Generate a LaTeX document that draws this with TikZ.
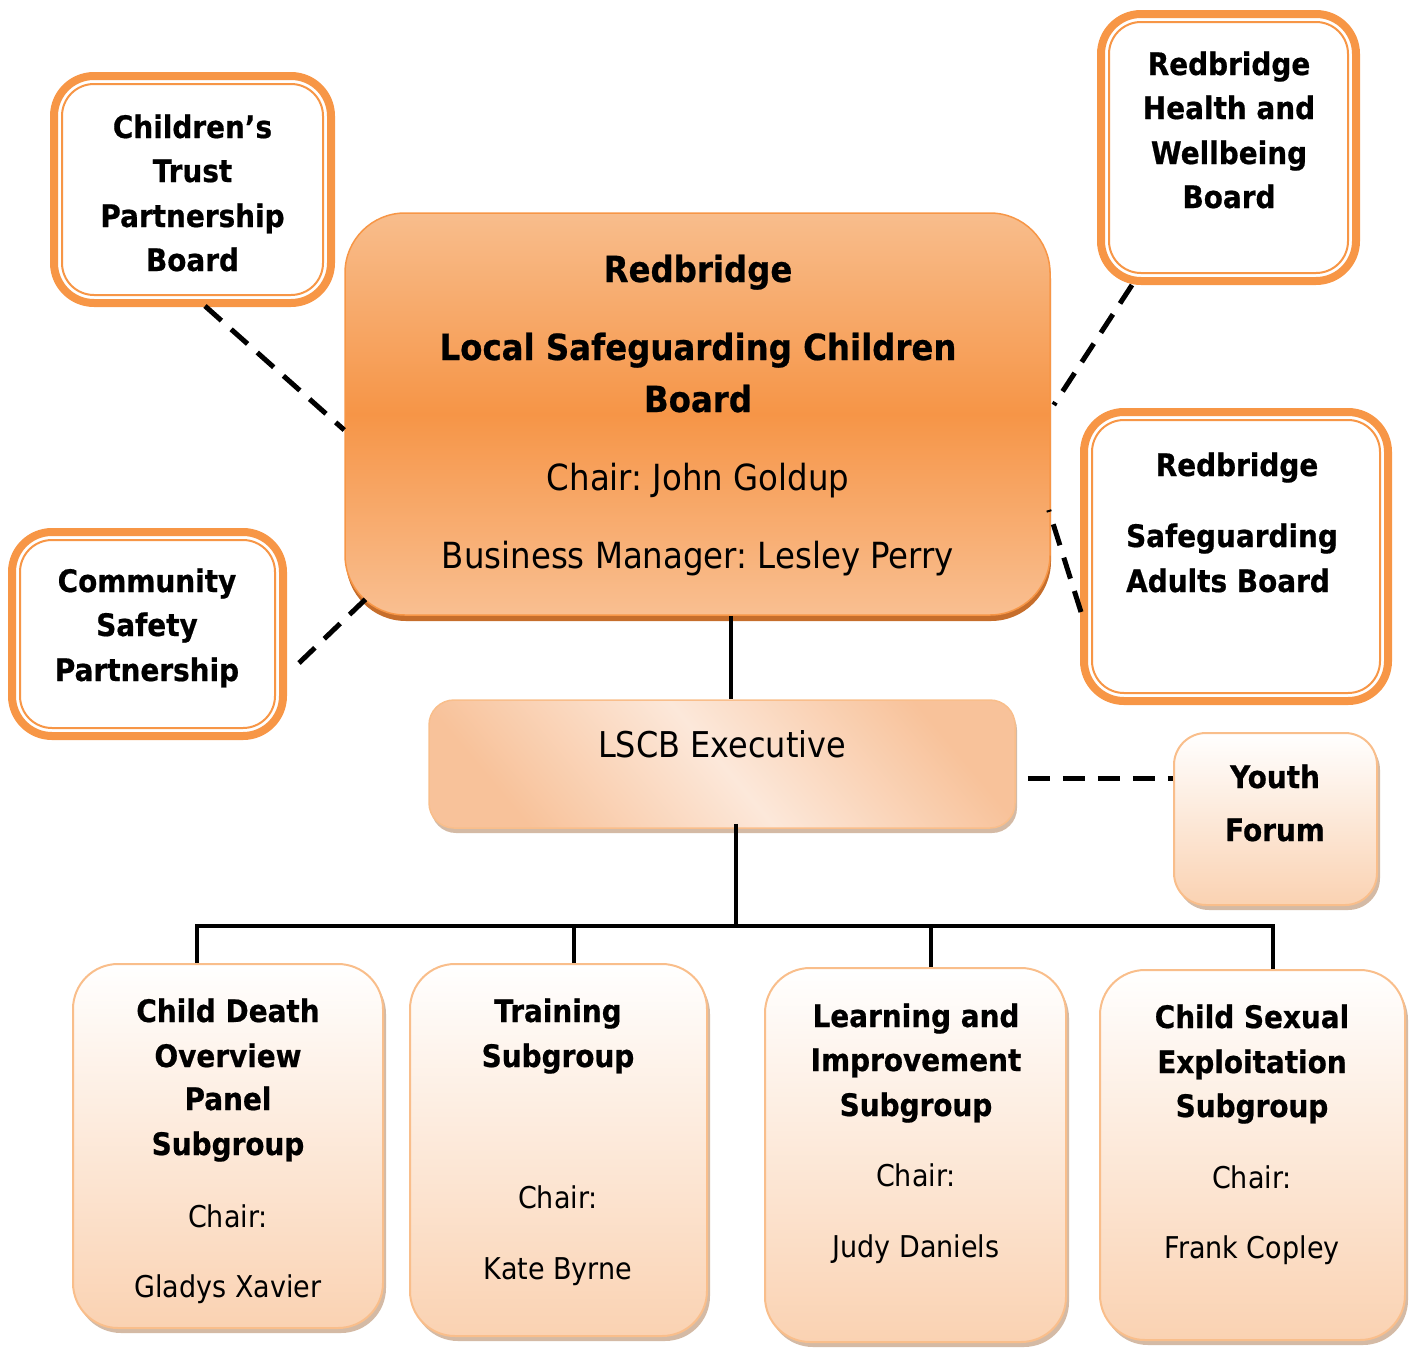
\documentclass[tikz,border=0pt]{standalone}
\usepackage{fontspec}
\setmainfont{DejaVu Sans}[FakeStretch=0.9, BoldFeatures={FakeBold=0.6}]
\usetikzlibrary{calc,shadows}
\definecolor{org}{HTML}{F79646}
\definecolor{mtop}{HTML}{F8BD8C}
\definecolor{mmid}{HTML}{F69547}
\definecolor{mbot}{HTML}{F9BF91}
\definecolor{mshad}{HTML}{C66E2C}
\definecolor{ec1}{HTML}{F8C29A}
\definecolor{ec2}{HTML}{FCE8DA}
\definecolor{sbot}{HTML}{FAD2B2}
\definecolor{sbord}{HTML}{F9BE8B}
\definecolor{lshad}{HTML}{C9A98E}
\tikzset{
  dbl/.style={draw=org, line width=8pt, fill=white, rounded corners=40pt, inner sep=0, outer sep=0},
  dblin/.style={draw=org, line width=2pt, rounded corners=32pt},
  mainbox/.style={draw=org, line width=1.5pt, rounded corners=60pt, inner sep=0,
    top color=mtop, bottom color=mbot, middle color=mmid,
    drop shadow={shadow xshift=1pt, shadow yshift=-6pt, fill=mshad, opacity=1}},
  execbox/.style={draw=sbord, line width=1.5pt, rounded corners=25pt, inner sep=0,
    shading=axis, top color=ec1, bottom color=ec1, middle color=ec2, shading angle=-50,
    drop shadow={shadow xshift=2pt, shadow yshift=-5pt, fill=lshad, opacity=.8}},
  subbox/.style={draw=sbord, line width=2pt, rounded corners=45pt, inner sep=0,
    top color=white, bottom color=sbot,
    drop shadow={shadow xshift=3pt, shadow yshift=-5pt, fill=lshad, opacity=.8}},
  bt/.style={anchor=base, inner sep=0, font=\fontsize{31}{31}\selectfont\bfseries},
  rt/.style={anchor=base, inner sep=0, font=\fontsize{30}{30}\selectfont},
  mbt/.style={anchor=base, inner sep=0, font=\fontsize{36}{36}\selectfont\bfseries},
  mrt/.style={anchor=base, inner sep=0, font=\fontsize{36}{36}\selectfont},
  conn/.style={line width=4.5pt},
  dsh/.style={line width=5pt, dash pattern=on 22pt off 13pt}
}
\begin{document}
\frenchspacing
\begin{tikzpicture}[x=1pt,y=-1pt]
\useasboundingbox (0,0) rectangle (1418,1349);
% outer double-bordered boxes (anchors on the stroke centre line)
\node[dbl, minimum width=277, minimum height=227] (ct) at (192.5,189.5) {};
\draw[dblin] ([shift={(8pt,-8pt)}]ct.north west) rectangle ([shift={(-8pt,8pt)}]ct.south east);
\node[dbl, minimum width=255, minimum height=267] (hw) at (1228.5,147.5) {};
\draw[dblin] ([shift={(8pt,-8pt)}]hw.north west) rectangle ([shift={(-8pt,8pt)}]hw.south east);
\node[dbl, minimum width=304, minimum height=289] (sa) at (1236,556.5) {};
\draw[dblin] ([shift={(8pt,-8pt)}]sa.north west) rectangle ([shift={(-8pt,8pt)}]sa.south east);
\node[dbl, minimum width=271, minimum height=204] (cs) at (147.5,634) {};
\draw[dblin] ([shift={(8pt,-8pt)}]cs.north west) rectangle ([shift={(-8pt,8pt)}]cs.south east);
% main
\node[mainbox, minimum width=705, minimum height=402] (main) at (697.5,414) {};
% executive and youth
\node[execbox, minimum width=586, minimum height=128] (exec) at (722,764) {};
\node[subbox, rounded corners=32pt, minimum width=203, minimum height=172] (youth) at (1275.5,819) {};
% subgroups
\node[subbox, minimum width=310, minimum height=364] (cd) at (228,1146) {};
\node[subbox, minimum width=297, minimum height=372] (tr) at (558.5,1150) {};
\node[subbox, minimum width=301, minimum height=374] (li) at (915.5,1155) {};
\node[subbox, minimum width=305, minimum height=370] (cse) at (1252.5,1155) {};

% texts
\node[bt] (ct1) at (192.5,138) {Children’s};
\node[bt] (ct2) at (192.5,182) {Trust};
\node[bt] (ct3) at (192.5,227) {Partnership};
\node[bt] (ct4) at (192.5,271) {Board};

\node[bt] (hw1) at (1229,75) {Redbridge};
\node[bt] (hw2) at (1229,119) {Health and};
\node[bt] (hw3) at (1229,164) {Wellbeing};
\node[bt] (hw4) at (1229,208) {Board};

\node[bt] (sa1) at (1237,476) {Redbridge};
\node[bt] (sa2) at (1232,547) {Safeguarding};
\node[bt] (sa3) at (1228,592) {Adults Board};

\node[bt] (cs1) at (147,592) {Community};
\node[bt] (cs2) at (147,636) {Safety};
\node[bt] (cs3) at (147,681) {Partnership};

\node[mbt] (m1) at (698,282) {Redbridge};
\node[mbt] (m2) at (698,360) {Local Safeguarding Children};
\node[mbt] (m3) at (698,412) {Board};
\node[mrt] (m4) at (698,490) {Chair: John Goldup};
\node[mrt] (m5) at (698,568) {Business Manager: Lesley Perry};

\node[mrt, font=\fontsize{35.5}{35.5}\selectfont] (ex1) at (722,757) {LSCB Executive};
\node[bt] (y1) at (1275,788) {Youth};
\node[bt] (y2) at (1275,841) {Forum};

\node[bt] (cd1) at (228,1022) {Child Death};
\node[bt] (cd2) at (228,1067) {Overview};
\node[bt] (cd3) at (228,1110) {Panel};
\node[bt] (cd4) at (228,1155) {Subgroup};
\node[rt] (cd5) at (228,1227) {Chair:};
\node[rt] (cd6) at (228,1297) {Gladys Xavier};

\node[bt] (tr1) at (558,1022) {Training};
\node[bt] (tr2) at (558,1067) {Subgroup};
\node[rt] (tr3) at (558,1208) {Chair:};
\node[rt] (tr4) at (558,1279) {Kate Byrne};

\node[bt] (li1) at (916,1027) {Learning and};
\node[bt] (li2) at (916,1071) {Improvement};
\node[bt] (li3) at (916,1116) {Subgroup};
\node[rt] (li4) at (916,1186) {Chair:};
\node[rt] (li5) at (916,1257) {Judy Daniels};

\node[bt] (cse1) at (1252,1028) {Child Sexual};
\node[bt] (cse2) at (1252,1073) {Exploitation};
\node[bt] (cse3) at (1252,1117) {Subgroup};
\node[rt] (cse4) at (1252,1188) {Chair:};
\node[rt] (cse5) at (1252,1258) {Frank Copley};

% dashed connectors
\draw[dsh] ([shift={(12.5,3)}]ct.south) -- (main.west |- 0,430);
\draw[dsh] ([shift={(16,29)}]cs.east) -- ([shift={(27,-22)}]main.south west);
\draw[dsh] ([shift={(-96.5,4)}]hw.south) -- ([shift={(3,-9)}]main.east);
\draw[dsh] ([shift={(-3,55.5)}]sa.west) -- ([shift={(-2,96)}]main.east);
\draw[dsh] ([shift={(12,14)}]exec.east) -- (youth.west |- 0,778);

% solid connectors
\coordinate (ms) at ([shift={(33.5,0)}]main.south);
\draw[conn] (ms) -- (ms |- exec.north);
\coordinate (es) at ([shift={(14,-5)}]exec.south);
\coordinate (bus) at ([shift={(14,97)}]exec.south);
\draw[conn] (es) -- (bus);
\draw[conn] ([shift={(-31,0)}]cd.north) |- (bus);
\draw[conn] ([shift={(15.5,0)}]tr.north) |- (bus);
\draw[conn] ([shift={(15.5,0)}]li.north) |- (bus);
\draw[conn] ([shift={(20.5,0)}]cse.north) |- (bus);
\end{tikzpicture}
\end{document}
